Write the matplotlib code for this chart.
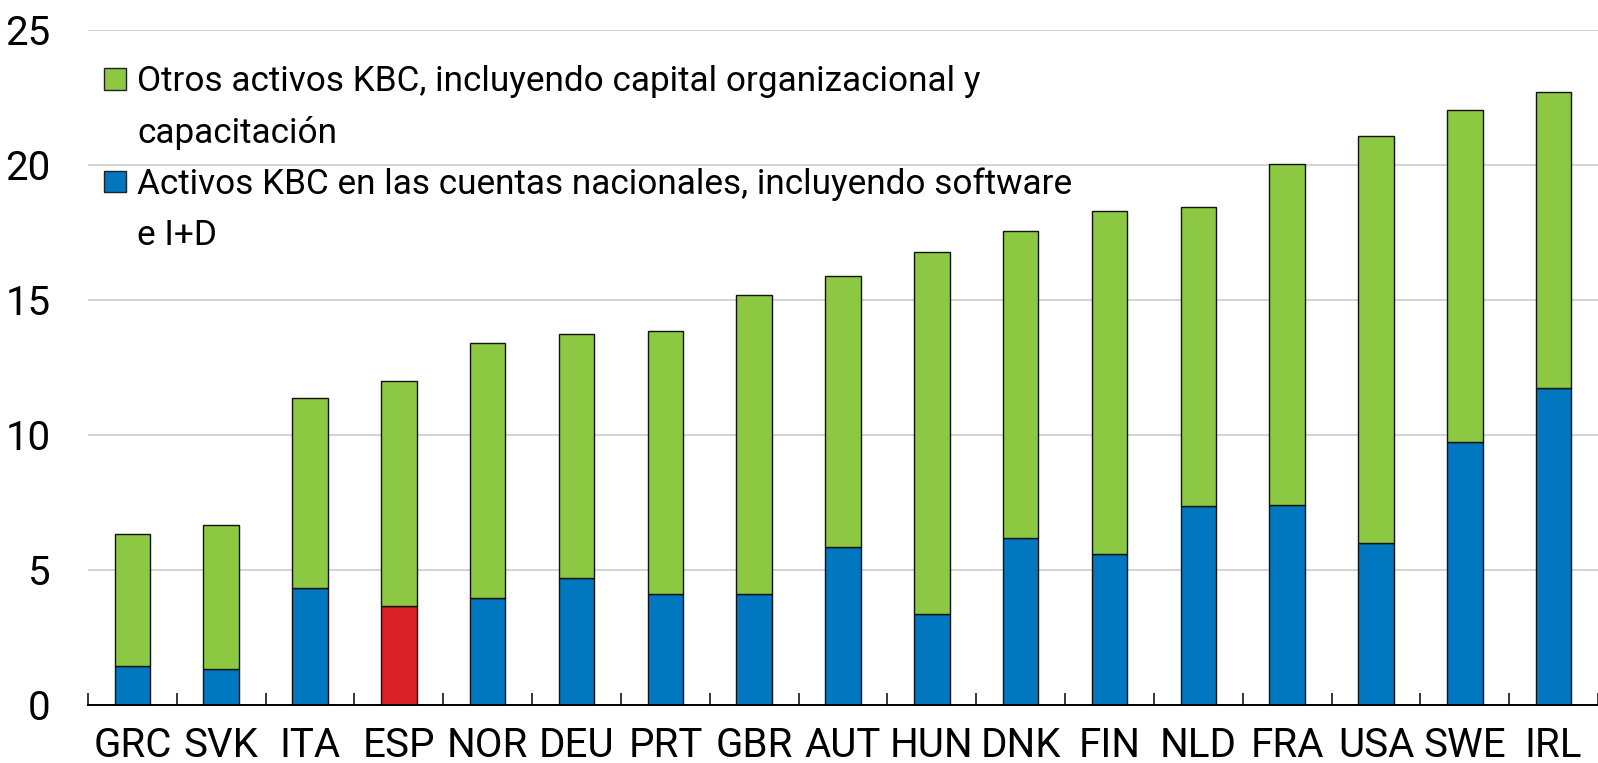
import matplotlib
matplotlib.use("Agg")
import matplotlib.pyplot as plt
from matplotlib.patches import Patch
import numpy as np

countries = ["GRC", "SVK", "ITA", "ESP", "NOR", "DEU", "PRT", "GBR", "AUT",
             "HUN", "DNK", "FIN", "NLD", "FRA", "USA", "SWE", "IRL"]
national = [1.43, 1.32, 4.34, 3.66, 3.96, 4.71, 4.11, 4.11, 5.84,
            3.36, 6.18, 5.58, 7.35, 7.39, 6.0, 9.75, 11.75]
totals = [6.33, 6.67, 11.35, 11.99, 13.39, 13.73, 13.84, 15.16, 15.87,
          16.78, 17.53, 18.28, 18.44, 20.03, 21.06, 22.02, 22.69]
other = [t - n for t, n in zip(totals, national)]
highlight = "ESP"
yticks = [0, 5, 10, 15, 20, 25]
label_other = ["Otros activos KBC, incluyendo capital organizacional y", "capacitación"]
label_nat = ["Activos KBC en las cuentas nacionales, incluyendo software", "e I+D"]

GREEN = "#8CC841"
BLUE = "#0077BE"
RED = "#DA2128"

plt.rcParams["font.family"] = ["Roboto", "Liberation Sans", "DejaVu Sans"]

fig = plt.figure(figsize=(15.98, 7.63), dpi=100)
ax = fig.add_axes([88/1598, 58/763, 1 - 88/1598, (705 - 29.5)/763])

x = np.arange(len(countries))
bcolors = [RED if c == highlight else BLUE for c in countries]
ax.bar(x, national, width=0.4, color=bcolors, edgecolor="#111111", linewidth=1.0, zorder=3)
ax.bar(x, other, bottom=national, width=0.4, color=GREEN, edgecolor="#111111", linewidth=1.0, zorder=3)

ax.set_xlim(-0.5, len(countries) - 0.5)
ax.set_ylim(0, 25)
ax.set_yticks(yticks)
ax.set_yticklabels([str(v) for v in yticks], fontsize=29)
ax.set_xticks(x)
ax.set_xticklabels(countries, fontsize=29)
ax.set_xticks(np.arange(-0.5, len(countries), 1.0), minor=True)
ax.tick_params(axis="x", which="major", length=0, pad=15)
ax.tick_params(axis="x", which="minor", direction="in", length=8.6, width=1.1, color="black")
ax.tick_params(axis="y", length=0, pad=27)

ax.yaxis.grid(True, color="#c8c8c8", linewidth=1.1, zorder=0)
ax.set_axisbelow(True)
for s in ["left", "right", "top"]:
    ax.spines[s].set_visible(False)
ax.spines["bottom"].set_linewidth(1.4)
ax.spines["bottom"].set_zorder(4)

blank = Patch(facecolor="none", edgecolor="none")
handles = [Patch(facecolor=GREEN, edgecolor="#222222", linewidth=1.0), blank,
           Patch(facecolor=BLUE, edgecolor="#222222", linewidth=1.0), blank]
labels = [label_other[0], label_other[1], label_nat[0], label_nat[1]]
leg = ax.legend(handles, labels, loc="upper left",
                bbox_to_anchor=(0.0106, 0.947), frameon=False, fontsize=25.3,
                handlelength=0.62, handleheight=0.57, handletextpad=0.32,
                labelspacing=0.5, borderaxespad=0.0, borderpad=0.0)

fig.savefig("out.png", dpi=100)
